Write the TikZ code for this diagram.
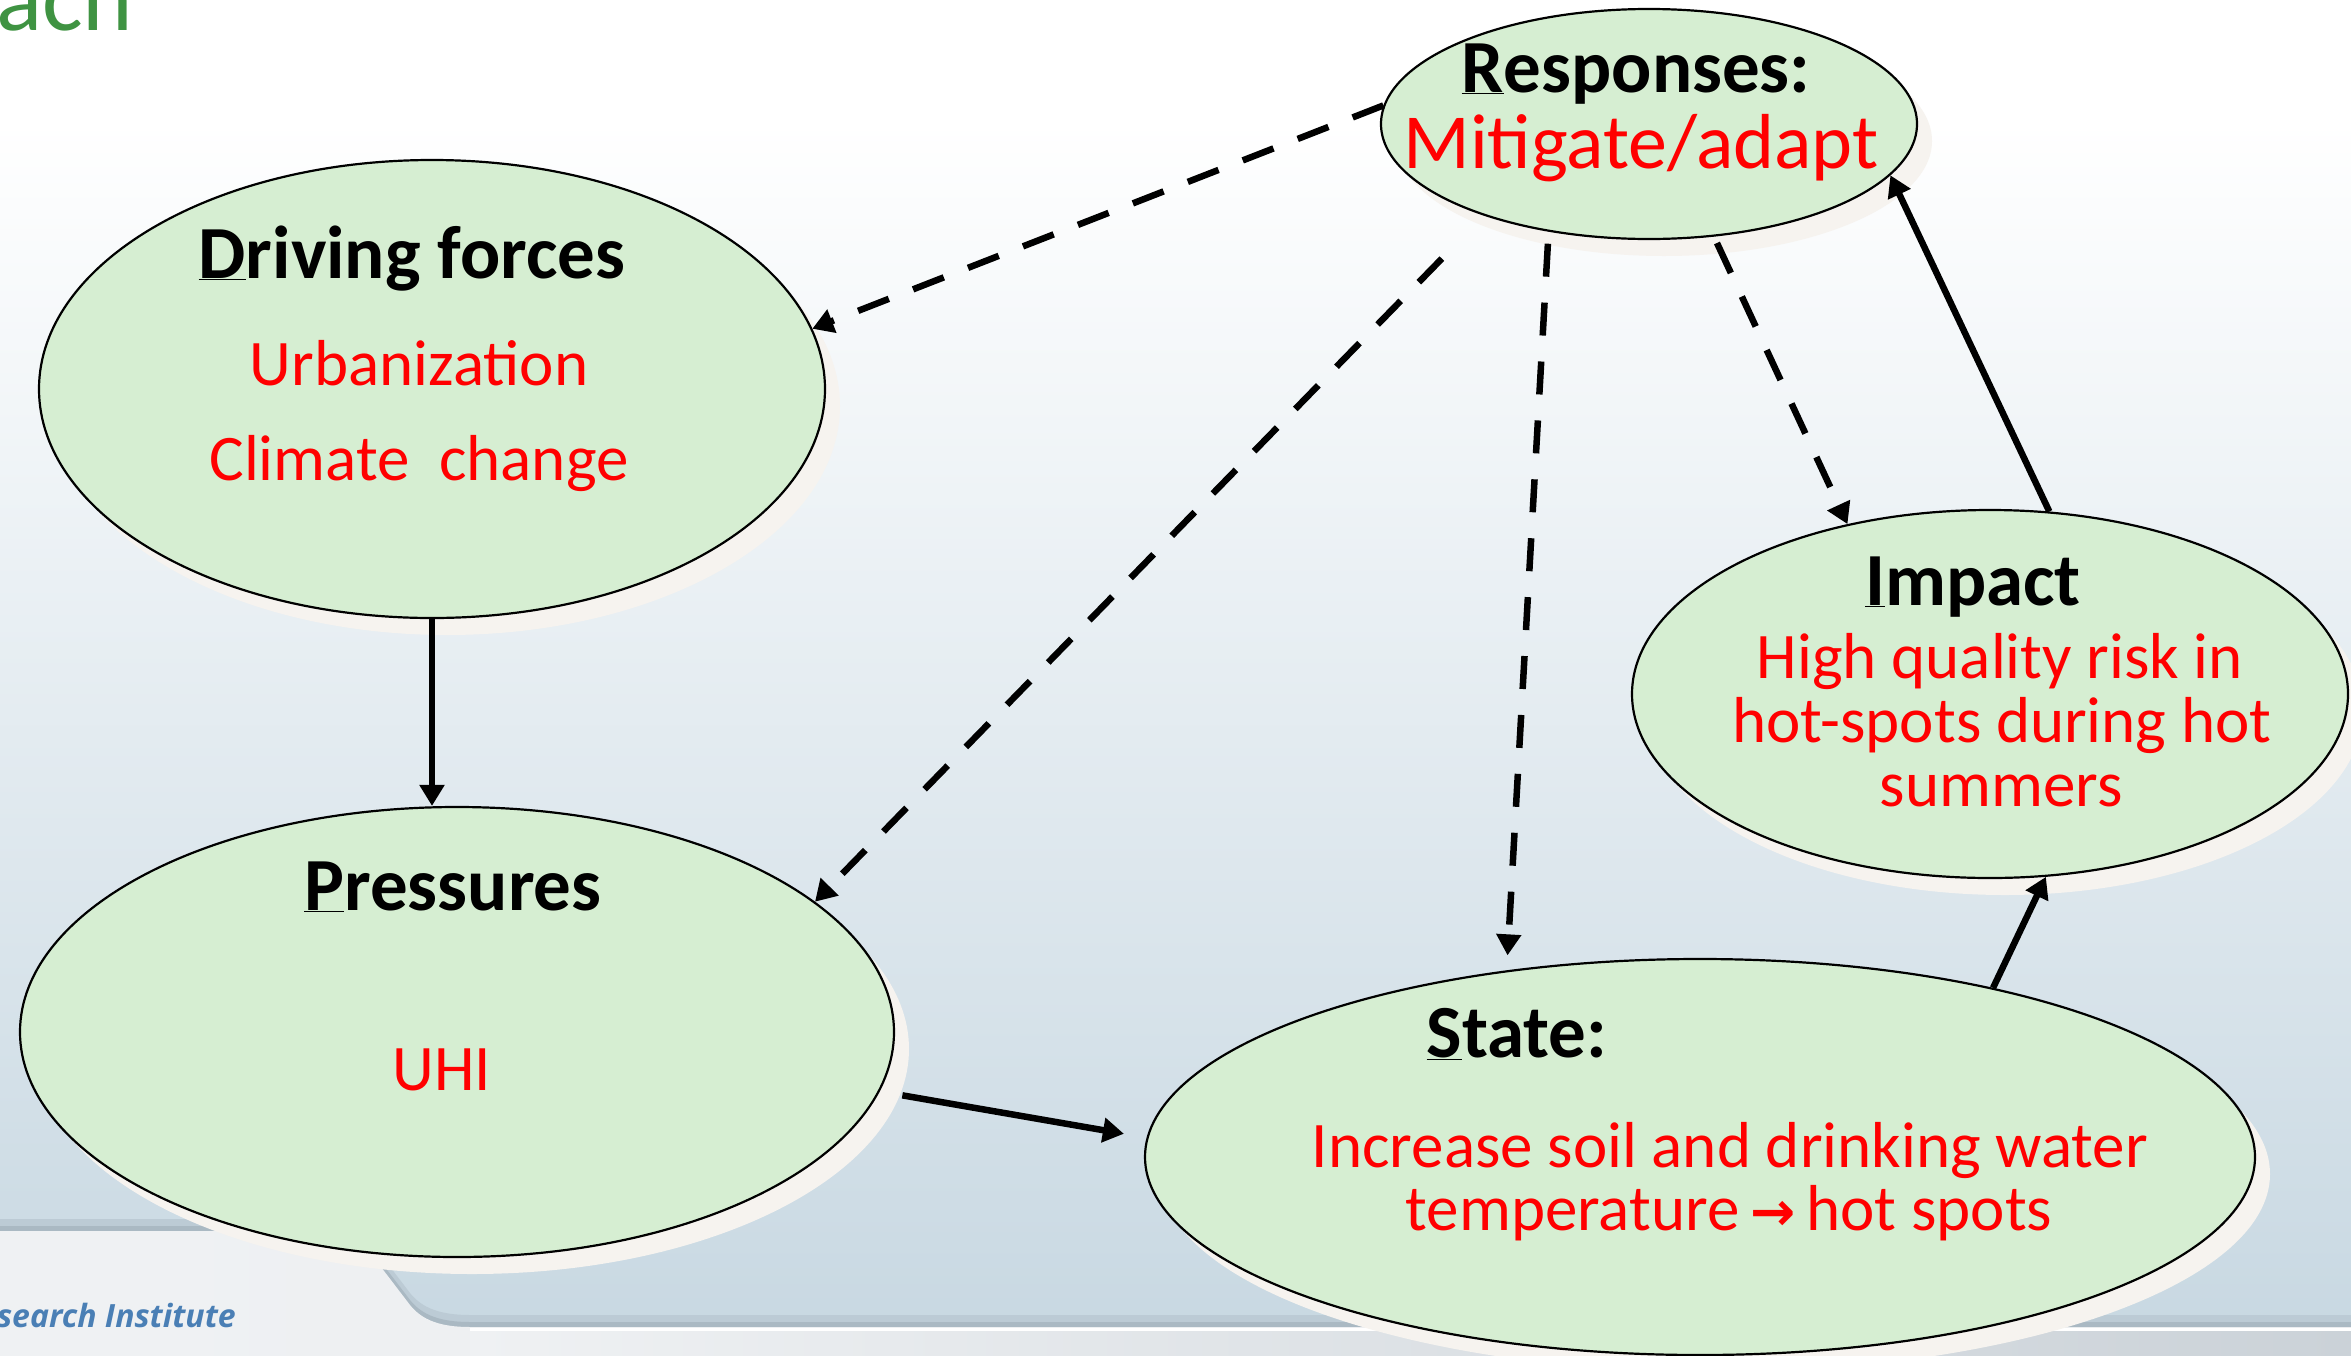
\documentclass[tikz,border=0pt]{standalone}
\usepackage{fontspec}
\setmainfont{Carlito}
\newfontfamily\symf{DejaVu Sans}
\newfontfamily\instf{Open Sans}
\usetikzlibrary{shapes.geometric,arrows.meta}
\definecolor{ellfill}{HTML}{D6EED2}
\definecolor{ellshadow}{HTML}{F6F3EF}
\definecolor{txtred}{HTML}{FF0000}
\definecolor{bgbot}{HTML}{C8D8E2}
\definecolor{bandlight}{HTML}{EFF1F3}
\definecolor{bandgray}{HTML}{CBD2D8}
\definecolor{bandsh1}{HTML}{BCCBD5}
\definecolor{bandsh2}{HTML}{AAB9C3}
\definecolor{titlegreen}{HTML}{3F9342}
\definecolor{instblue}{HTML}{4A7FB5}
\tikzset{
  ell/.style={ellipse, draw=black, line width=2.2pt, fill=ellfill, inner sep=0pt},
  ellsh/.style={ellipse, fill=ellshadow, inner sep=0pt},
  head/.style={anchor=base, inner sep=0pt, font=\fontsize{75}{90}\selectfont\bfseries, text=black},
  redtxt/.style={anchor=base, inner sep=0pt, font=\fontsize{65}{78}\selectfont, text=txtred},
  sarr/.style={line width=6.5pt, -{Triangle[length=21pt,width=24pt]}},
  darr/.style={line width=6.5pt, dash pattern=on 33pt off 26pt, -{Triangle[length=21pt,width=24pt]}},
}
\begin{document}
\begin{tikzpicture}[x=1pt,y=-1pt]
\useasboundingbox (0,0) rectangle (2351,1355);
% background
\fill[white] (0,0) rectangle (2351,120);
\shade[top color=white, bottom color=bgbot] (0,120) rectangle (2351,1330);
% bottom band shadow and band
\def\bandpath{(-5,1231) -- (335,1231) .. controls (350,1231) and (360,1238) .. (368,1250) -- (410,1305) .. controls (422,1320) and (440,1327) .. (470,1327) -- (2360,1327) -- (2360,1360) -- (-5,1360) -- cycle}
\fill[bandsh1, yshift=12pt] \bandpath;
\fill[bandsh2, yshift=5pt] \bandpath;
\shade[left color=bandlight, right color=bandlight!85!bandgray] \bandpath;
\shade[left color=bandlight, right color=bandgray] (470,1331) rectangle (2351,1355);
\draw[white, line width=3pt] (470,1329) -- (2351,1329);
\node[anchor=base east, inner sep=0pt, font=\fontsize{32}{36}\selectfont\instf\bfseries\itshape, text=instblue] (inst) at (236,1327) {search Institute};
\node[anchor=base west, inner sep=0pt, font=\fontsize{96}{110}\selectfont, text=titlegreen] (ttl) at (-4,30) {ach};
% shadows
\node[ellsh, minimum width=786pt, minimum height=458pt] (drvs) at (447,406) {};
\node[ellsh, minimum width=874pt, minimum height=450pt] (prss) at (472,1049) {};
\node[ellsh, minimum width=1110pt, minimum height=396pt] (stas) at (1715,1174) {};
\node[ellsh, minimum width=716pt, minimum height=368pt] (imps) at (2005,711) {};
\node[ellsh, minimum width=536pt, minimum height=230pt] (rsps) at (1664,141) {};
% ellipses
\node[ell, minimum width=786pt, minimum height=458pt] (drv) at (432,389) {};
\node[ell, minimum width=874pt, minimum height=450pt] (prs) at (457,1032) {};
\node[ell, minimum width=1110pt, minimum height=396pt] (sta) at (1700,1157) {};
\node[ell, minimum width=716pt, minimum height=368pt] (imp) at (1990,694) {};
\node[ell, minimum width=536pt, minimum height=230pt] (rsp) at (1649,124) {};
% texts
\node[head] (drvh) at (412,278) {\underline{D}riving forces};
\node[redtxt] (drv1) at (419,385) {Urbanization};
\node[redtxt] (drv2) at (419,480) {Climate~ change};
\node[head] (prsh) at (453,910) {\underline{P}ressures};
\node[redtxt] (prs1) at (442,1090) {UHI};
\node[head] (stah) at (1517,1057) {\underline{S}tate:};
\node[redtxt] (sta1) at (1730,1167) {Increase soil and drinking water};
\node[redtxt] (sta2) at (1729,1230) {temperature\,{\symf\bfseries\fontsize{54}{60}\selectfont →}\,hot spots};
\node[head] (imph) at (1973,605) {\underline{I}mpact};
\node[redtxt] (imp1) at (2000,678) {High quality risk in};
\node[redtxt] (imp2) at (2002,742) {hot-spots during hot};
\node[redtxt] (imp3) at (2001,806) {summers};
\node[head] (rsph) at (1636,92) {\underline{R}esponses:};
\node[redtxt, font=\fontsize{78}{90}\selectfont] (rsp1) at (1641,168) {Mitigate/adapt};
% connectors
\draw[sarr] (drv.south) -- (drv.south |- prs.north);
\draw[sarr, shorten <=23pt, shorten >=23pt] (prs.-8.5) -- (sta.178);
\draw[sarr] (sta.30) -- (imp.-73);
\draw[sarr] (imp.72) -- (rsp.-12);
\draw[darr] (rsp.176) -- (drv.9.3);
\draw[darr, shorten <=60pt] (rsp.209) -- (prs.20);
\draw[darr, shorten <=12pt, shorten >=15pt] (rsp.227.5) -- (sta.136.6);
\draw[darr, shorten <=7pt] (rsp.-60) -- (imp.130);
\end{tikzpicture}
\end{document}
